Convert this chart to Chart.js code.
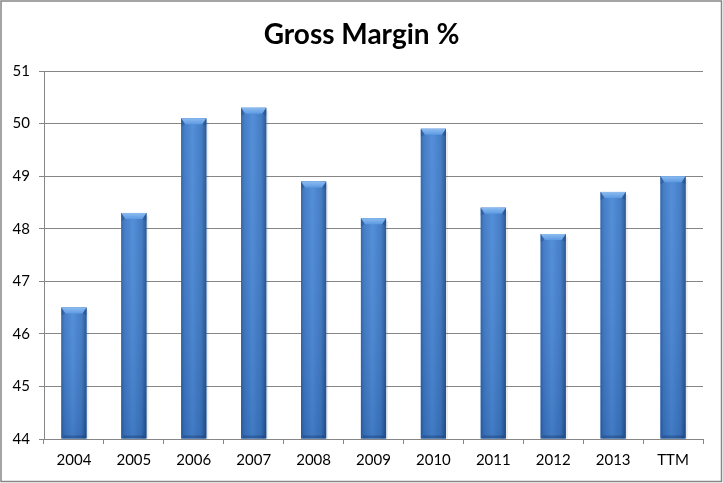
<!DOCTYPE html>
<html>
<head>
<meta charset="utf-8">
<style>
html,body{margin:0;padding:0;background:#fff;}
#wrap{width:723px;height:483px;position:relative;}
</style>
<script src="https://cdn.jsdelivr.net/npm/chart.js@4/dist/chart.umd.min.js"></script>
</head>
<body>
<div id="wrap"><canvas id="c" width="723" height="483"></canvas></div>
<script>
const categories = ['2004','2005','2006','2007','2008','2009','2010','2011','2012','2013','TTM'];
const grossMargin = [46.5, 48.3, 50.1, 50.3, 48.9, 48.2, 49.9, 48.4, 47.9, 48.7, 49.0];
const yTicks = [44, 45, 46, 47, 48, 49, 50, 51];
const chartTitle = 'Gross Margin %';

const borderPlugin = {
  id: 'outerBorder',
  beforeDraw(chart) {
    const ctx = chart.ctx;
    ctx.save();
    ctx.fillStyle = '#ffffff';
    ctx.fillRect(0, 0, chart.width, chart.height);
    ctx.strokeStyle = '#868686';
    ctx.lineWidth = 1.5;
    ctx.strokeRect(1, 1, chart.width - 2.5, chart.height - 2.5);
    // title
    ctx.fillStyle = '#000';
    ctx.font = 'bold 28px Lato';
    ctx.textAlign = 'center';
    ctx.textBaseline = 'alphabetic';
    ctx.fillText(chartTitle, chart.width / 2, 44);
    ctx.restore();
  }
};

const bevelPlugin = {
  id: 'bevelBars',
  afterDatasetsDraw(chart) {
    const ctx = chart.ctx;
    const meta = chart.getDatasetMeta(0);
    const area = chart.chartArea;
    ctx.save();
    ctx.beginPath();
    ctx.rect(area.left, area.top - 2, area.right - area.left + 4, area.bottom - area.top + 2);
    ctx.clip();
    meta.data.forEach(bar => {
      const p = bar.getProps(['x', 'y', 'base', 'width'], true);
      const l = p.x - p.width / 2, r = p.x + p.width / 2;
      const t = p.y, b = Math.min(p.base, area.bottom), w = p.width;
      // soft shadow
      ctx.fillStyle = 'rgba(0,0,0,0.08)';
      ctx.fillRect(r, t + 3, 2, b - t - 3);
      // body gradient (horizontal)
      const g = ctx.createLinearGradient(l, 0, r, 0);
      g.addColorStop(0, '#2d5e9f');
      g.addColorStop(0.12, '#3b76c3');
      g.addColorStop(0.45, '#4a89d6');
      g.addColorStop(0.8, '#3c77c2');
      g.addColorStop(1, '#23508d');
      ctx.fillStyle = g;
      ctx.fillRect(l, t, w, b - t);
      // vertical shading toward bottom
      const gv = ctx.createLinearGradient(0, t, 0, b);
      gv.addColorStop(0, 'rgba(255,255,255,0.05)');
      gv.addColorStop(1, 'rgba(0,20,60,0.12)');
      ctx.fillStyle = gv;
      ctx.fillRect(l, t, w, b - t);
      // top bevel
      const bh = 6;
      const gt = ctx.createLinearGradient(0, t, 0, t + bh);
      gt.addColorStop(0, '#8dbcf0');
      gt.addColorStop(1, '#5d9ae2');
      ctx.fillStyle = gt;
      ctx.beginPath();
      ctx.moveTo(l, t);
      ctx.lineTo(r, t);
      ctx.lineTo(r - 4, t + bh);
      ctx.lineTo(l + 4, t + bh);
      ctx.closePath();
      ctx.fill();
      ctx.fillStyle = 'rgba(30,70,130,0.35)';
      ctx.beginPath();
      ctx.moveTo(l, t); ctx.lineTo(l + 4, t + bh); ctx.lineTo(l, t + bh + 2); ctx.closePath(); ctx.fill();
      ctx.beginPath();
      ctx.moveTo(r, t); ctx.lineTo(r - 4, t + bh); ctx.lineTo(r, t + bh + 2); ctx.closePath(); ctx.fill();
      // bottom bevel
      ctx.fillStyle = 'rgba(20,50,100,0.35)';
      ctx.fillRect(l + 2, b - 3, w - 4, 3);
    });
    ctx.restore();
  }
};

new Chart(document.getElementById('c'), {
  type: 'bar',
  data: {
    labels: categories,
    datasets: [{
      label: chartTitle,
      data: grossMargin,
      base: 44,
      backgroundColor: '#4a89d6',
      borderWidth: 0,
      barPercentage: 0.42,
      categoryPercentage: 1.0
    }]
  },
  options: {
    responsive: false,
    animation: false,
    layout: { padding: { top: 71, right: 20, bottom: 0, left: 0 } },
    plugins: {
      legend: { display: false },
      tooltip: { enabled: false },
      title: { display: false }
    },
    scales: {
      x: {
        offset: true,
        grid: {
          offset: true,
          drawOnChartArea: false,
          drawTicks: true,
          tickLength: 5,
          color: '#868686'
        },
        border: { display: true, color: '#868686', width: 1 },
        ticks: {
          color: '#000',
          font: { family: 'Lato', size: 15 },
          padding: 7,
          maxRotation: 0
        },
        afterFit(scale) { scale.height = 44; }
      },
      y: {
        min: 44,
        max: 51,
        afterBuildTicks(scale) { scale.ticks = yTicks.map(v => ({ value: v })); },
        grid: {
          color: '#868686',
          tickLength: 5,
          lineWidth: 1
        },
        border: { display: true, color: '#868686', width: 1 },
        ticks: {
          color: '#000',
          font: { family: 'Lato', size: 15 },
          padding: 9
        },
        afterFit(scale) { scale.width = 44; }
      }
    }
  },
  plugins: [borderPlugin, bevelPlugin]
});
</script>
</body>
</html>
